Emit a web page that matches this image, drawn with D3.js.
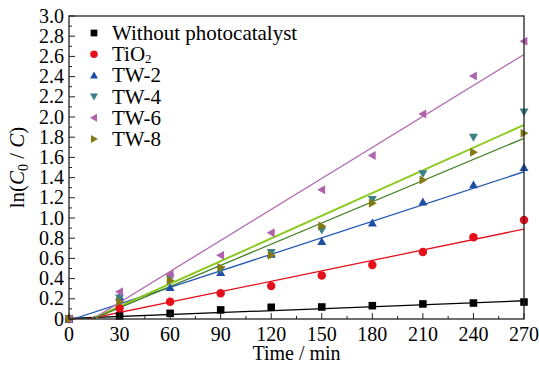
<!DOCTYPE html>
<html>
<head>
<meta charset="utf-8">
<script src="https://cdn.jsdelivr.net/npm/d3@7"></script>
<style>
  body { margin: 0; background: #fff; }
  text { font-family: "Liberation Serif", "Times New Roman", serif; fill: #000; }
</style>
</head>
<body>
<svg id="chart" width="539" height="366"></svg>
<script>
// time axis (min)
const times = [0, 30, 60, 90, 120, 150, 180, 210, 240, 270];

// ln(C0/C)
const withoutVals = [0, 0.03, 0.056, 0.09, 0.116, 0.119, 0.132, 0.149, 0.158, 0.168];
const tio2Vals = [0, 0.106, 0.17, 0.254, 0.327, 0.43, 0.535, 0.663, 0.81, 0.98];
const tw2Vals = [0, 0.22, 0.31, 0.46, 0.64, 0.765, 0.95, 1.158, 1.327, 1.5];
const tw4Vals = [0, 0.21, 0.41, 0.49, 0.66, 0.88, 1.185, 1.44, 1.8, 2.05];
const tw6Vals = [0, 0.27, 0.44, 0.63, 0.855, 1.28, 1.62, 2.03, 2.405, 2.75];
const tw8Vals = [0, 0.17, 0.38, 0.51, 0.63, 0.92, 1.145, 1.376, 1.65, 1.84];

// linear fits (slope, intercept)
const fitSlopes = [0.00065, 0.00344, 0.00545, 0.00749, 0.01023, 0.00699];
const fitIntercepts = [0.005, -0.039, -0.0135, -0.101, -0.143, -0.098];

const seriesNames = ['Without photocatalyst', 'TiO2', 'TW-2', 'TW-4', 'TW-6', 'TW-8'];
const markerColors = ['#000000', '#e3101c', '#1f4ea8', '#3c7f87', '#b062aa', '#857a12'];
const lineColors = ['#000000', '#e3101c', '#2557b2', '#8cca20', '#b46bb0', '#3f7d1e'];
const lineWidths = [1.3, 1.3, 1.3, 2, 1.3, 1.3];
const markerKinds = ['square', 'circle', 'up', 'down', 'left', 'right'];

const xTicks = [0, 30, 60, 90, 120, 150, 180, 210, 240, 270];
const yTicks = d3.range(0, 3.01, 0.2).map(v => +v.toFixed(1));

const allVals = [withoutVals, tio2Vals, tw2Vals, tw4Vals, tw6Vals, tw8Vals];

const svg = d3.select('#chart');
const margin = {left: 69, right: 15, top: 16, bottom: 47};
const W = 539, H = 366;

const x = d3.scaleLinear().domain([0, 270]).range([margin.left, W - margin.right]);
const y = d3.scaleLinear().domain([0, 3.0]).range([H - margin.bottom, margin.top]);

// clip for plot area
svg.append('defs').append('clipPath').attr('id', 'clip')
  .append('rect')
  .attr('x', x(0)).attr('y', y(3))
  .attr('width', x(270) - x(0)).attr('height', y(0) - y(3));

// fit lines
const fitG = svg.append('g').attr('clip-path', 'url(#clip)');
fitSlopes.forEach((k, i) => {
  const b = fitIntercepts[i];
  const x0 = Math.max(0, -b / k);
  fitG.append('line')
    .attr('x1', x(x0)).attr('y1', y(k * x0 + b))
    .attr('x2', x(270)).attr('y2', y(k * 270 + b))
    .attr('stroke', lineColors[i])
    .attr('stroke-width', lineWidths[i]);
});

// marker drawing
function markerPath(kind, s) {
  const p = d3.path();
  if (kind === 'square') {
    p.rect(-s * 0.42, -s * 0.42, s * 0.84, s * 0.84);
  } else if (kind === 'circle') {
    p.arc(0, 0, s * 0.47, 0, 2 * Math.PI);
  } else {
    const h = s * 0.5;
    let pts;
    if (kind === 'up') pts = [[0, -h], [h, h * 0.75], [-h, h * 0.75]];
    if (kind === 'down') pts = [[0, h], [h, -h * 0.75], [-h, -h * 0.75]];
    if (kind === 'left') pts = [[-h, 0], [h * 0.75, -h], [h * 0.75, h]];
    if (kind === 'right') pts = [[h, 0], [-h * 0.75, -h], [-h * 0.75, h]];
    p.moveTo(pts[0][0], pts[0][1]);
    p.lineTo(pts[1][0], pts[1][1]);
    p.lineTo(pts[2][0], pts[2][1]);
    p.closePath();
  }
  return p.toString();
}

allVals.forEach((vals, i) => {
  svg.append('g').selectAll('path')
    .data(vals)
    .join('path')
    .attr('transform', (d, j) => `translate(${x(times[j])},${y(d)})`)
    .attr('d', markerPath(markerKinds[i], 9))
    .attr('fill', markerColors[i]);
});

// frame
svg.append('rect')
  .attr('x', x(0)).attr('y', y(3))
  .attr('width', x(270) - x(0)).attr('height', y(0) - y(3))
  .attr('fill', 'none').attr('stroke', '#222').attr('stroke-width', 1.3);

// ticks (inward)
const tickG = svg.append('g').attr('stroke', '#222').attr('stroke-width', 1);
d3.range(0, 271, 15).forEach(t => {
  const len = t % 30 === 0 ? 6 : 3;
  tickG.append('line')
    .attr('x1', x(t)).attr('x2', x(t))
    .attr('y1', y(0)).attr('y2', y(0) - len);
});
d3.range(0, 31, 1).forEach(t => {
  const v = t / 10;
  const len = t % 2 === 0 ? 6 : 3;
  tickG.append('line')
    .attr('x1', x(0)).attr('x2', x(0) + len)
    .attr('y1', y(v)).attr('y2', y(v));
});

// tick labels
svg.append('g').selectAll('text')
  .data(xTicks)
  .join('text')
  .attr('x', d => x(d))
  .attr('y', y(0) + 22)
  .attr('text-anchor', 'middle')
  .attr('font-size', 20)
  .text(d => d);

svg.append('g').selectAll('text')
  .data(yTicks)
  .join('text')
  .attr('x', x(0) - 5)
  .attr('y', d => y(d) + 6.6)
  .attr('text-anchor', 'end')
  .attr('font-size', 20)
  .text(d => d === 0 ? '0' : d.toFixed(1));

// axis titles
svg.append('text')
  .attr('x', (x(0) + x(270)) / 2)
  .attr('y', 360)
  .attr('text-anchor', 'middle')
  .attr('font-size', 20)
  .text('Time / min');

const yt = svg.append('text')
  .attr('transform', `translate(24,${(y(0) + y(3)) / 2}) rotate(-90)`)
  .attr('text-anchor', 'middle')
  .attr('font-size', 21);
yt.append('tspan').text('ln(');
yt.append('tspan').attr('font-style', 'italic').text('C');
yt.append('tspan').attr('font-size', 14).attr('dy', 4).text('0');
yt.append('tspan').attr('dy', -4).text(' / ');
yt.append('tspan').attr('font-style', 'italic').text('C');
yt.append('tspan').text(')');

// legend
const legend = svg.append('g');
seriesNames.forEach((name, i) => {
  const ly = 33 + i * 21.2;
  legend.append('path')
    .attr('transform', `translate(94,${ly})`)
    .attr('d', markerPath(markerKinds[i], 8))
    .attr('fill', markerColors[i]);
  const t = legend.append('text')
    .attr('x', 112).attr('y', ly + 7)
    .attr('font-size', 21);
  if (name === 'TiO2') {
    t.append('tspan').text('TiO');
    t.append('tspan').attr('font-size', 13).attr('dy', 2).text('2');
  } else {
    t.text(name);
  }
});
</script>
</body>
</html>
